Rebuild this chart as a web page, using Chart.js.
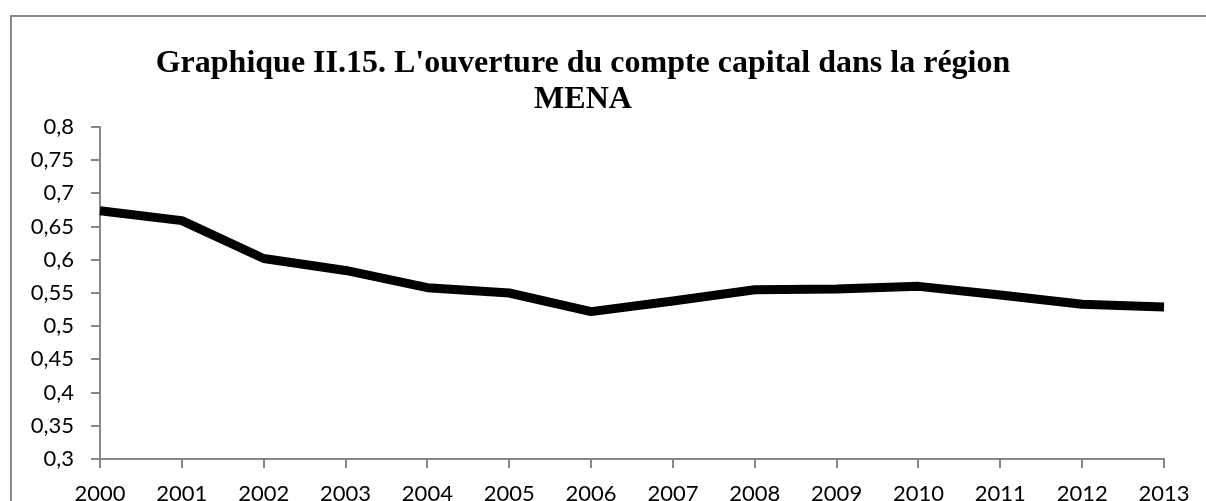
<!DOCTYPE html>
<html>
<head>
<meta charset="utf-8">
<script src="https://cdn.jsdelivr.net/npm/chart.js@4"></script>
<style>
  html, body { margin: 0; padding: 0; background: #fff; overflow: hidden; }
  #chart { position: absolute; left: 0; top: 0; }
</style>
</head>
<body>
<canvas id="chart" width="1206" height="501"></canvas>
<script>
// Années (axe horizontal)
const years = ['2000', '2001', '2002', '2003', '2004', '2005', '2006',
               '2007', '2008', '2009', '2010', '2011', '2012', '2013'];

// Indice d'ouverture du compte capital, région MENA
const ouverture = [0.674, 0.659, 0.602, 0.584, 0.558, 0.550, 0.522,
                   0.538, 0.555, 0.556, 0.560, 0.547, 0.533, 0.529];

// Graduations de l'axe vertical
const yTicks = [0.3, 0.35, 0.4, 0.45, 0.5, 0.55, 0.6, 0.65, 0.7, 0.75, 0.8];

const titleLines = ["Graphique II.15. L'ouverture du compte capital dans la région", 'MENA'];

const axisGrey = '#878787';
const labelFont = { family: 'Lato', size: 22 };

// cadre gris autour du graphique : seulement les bords gauche et haut sont visibles
const framePlugin = {
    id: 'cadre',
    beforeDraw(chart) {
        const ctx = chart.ctx;
        ctx.save();
        ctx.fillStyle = '#fff';
        ctx.fillRect(0, 0, chart.width, chart.height);
        ctx.strokeStyle = axisGrey;
        ctx.lineWidth = 2;
        ctx.beginPath();
        ctx.moveTo(11, chart.height);
        ctx.lineTo(11, 16);
        ctx.lineTo(chart.width, 16);
        ctx.stroke();
        ctx.restore();
    }
};

// titre dessiné à la main (centré comme dans l'original)
const titlePlugin = {
    id: 'titreGraphique',
    afterDraw(chart) {
        const ctx = chart.ctx;
        ctx.save();
        ctx.fillStyle = '#000';
        ctx.font = 'bold 32px "Liberation Serif"';
        ctx.textAlign = 'center';
        ctx.textBaseline = 'alphabetic';
        ctx.fillText(titleLines[0], 583, 72);
        ctx.fillText(titleLines[1], 583, 108);
        ctx.restore();
    }
};

new Chart(document.getElementById('chart'), {
    type: 'line',
    data: {
        labels: years,
        datasets: [{
            label: 'Ouverture du compte capital',
            data: ouverture,
            borderColor: '#000',
            borderWidth: 9,
            pointRadius: 0,
            tension: 0,
            borderCapStyle: 'butt',
            borderJoinStyle: 'round'
        }]
    },
    options: {
        responsive: false,
        animation: false,
        layout: { padding: { top: 127, right: 42, left: 0, bottom: 0 } },
        plugins: {
            legend: { display: false },
            tooltip: { enabled: false }
        },
        scales: {
            x: {
                offset: false,
                grid: { drawOnChartArea: false, color: axisGrey, lineWidth: 2, tickLength: 9 },
                border: { color: axisGrey, width: 2 },
                ticks: { color: '#000', font: labelFont, padding: 13, maxRotation: 0, autoSkip: false },
                afterFit(scale) { scale.height = 42; }
            },
            y: {
                min: 0.3,
                max: 0.8,
                afterBuildTicks(scale) { scale.ticks = yTicks.map(v => ({ value: v })); },
                grid: { drawOnChartArea: false, color: axisGrey, lineWidth: 2, tickLength: 9 },
                border: { color: axisGrey, width: 2 },
                ticks: {
                    color: '#000',
                    font: labelFont,
                    padding: 17,
                    callback: v => String(Number(v.toFixed(2))).replace('.', ',')
                },
                afterFit(scale) { scale.width = 100; }
            }
        }
    },
    plugins: [framePlugin, titlePlugin]
});
</script>
</body>
</html>
